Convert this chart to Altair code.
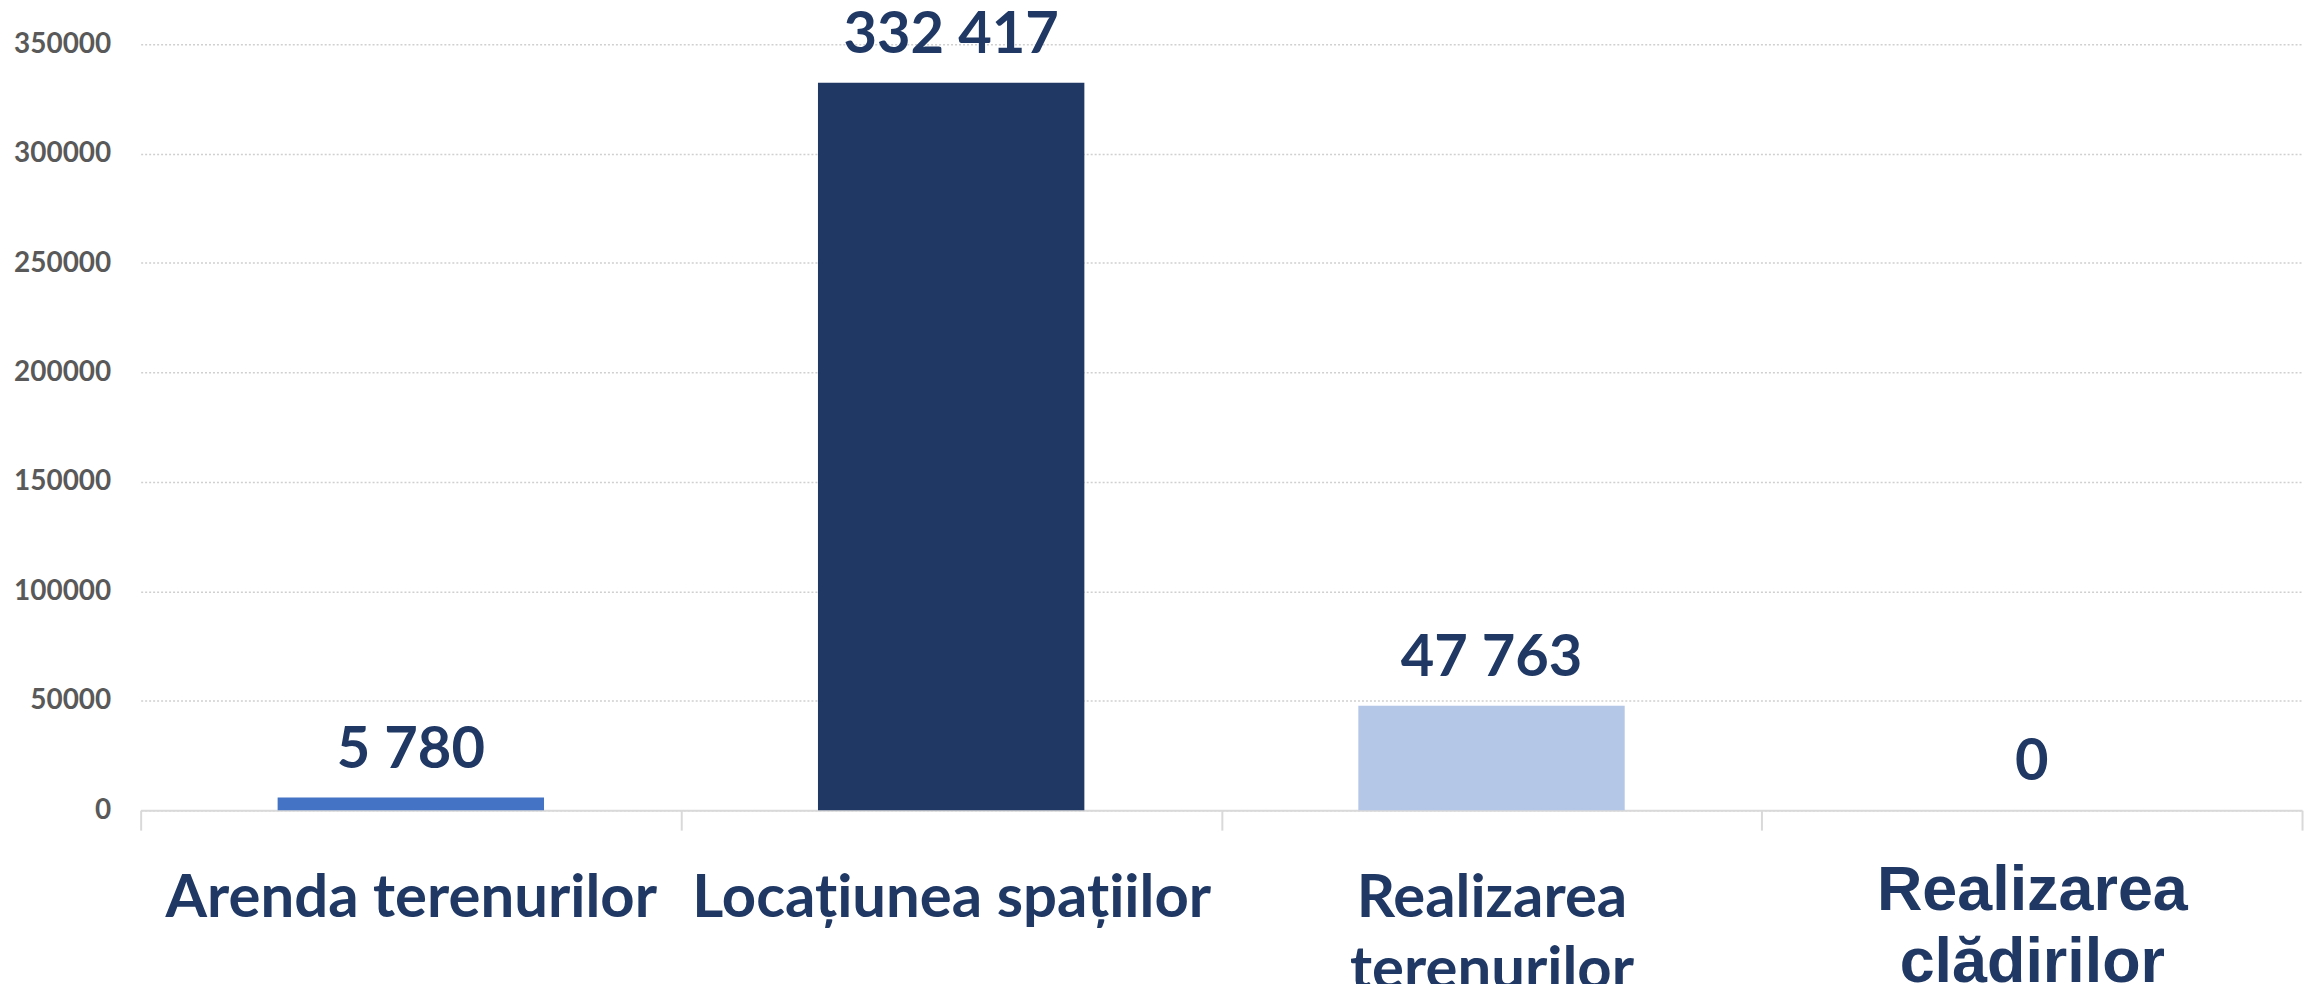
import altair as alt
import pandas as pd

categories = ["Arenda terenurilor", "Locațiunea spațiilor", "Realizarea terenurilor", "Realizarea clădirilor"]
values = [5780, 332417, 47763, 0]
bar_colors = ["#4472C4", "#203864", "#B4C7E7", "#203864"]
y_ticks = [0, 50000, 100000, 150000, 200000, 250000, 300000, 350000]

df = pd.DataFrame({"category": categories, "value": values})

W, H = 2167, 768
TEXT = "#1F3864"
last_test = "datum.value == 'Realizarea clădirilor'"

x = alt.X(
    "category:N",
    sort=categories,
    title=None,
    scale=alt.Scale(paddingInner=0, paddingOuter=0),
    axis=alt.Axis(
        labelExpr="indexof(datum.label, 'Realizarea') == 0 ? split(datum.label, ' ') : datum.label",
        labelAngle=0,
        labelLimit=900,
        labelOverlap=False,
        labelColor=TEXT,
        labelFontWeight="bold",
        labelFont={"condition": {"test": last_test, "value": "Liberation Sans"}, "value": "Lato"},
        labelFontSize={"condition": {"test": last_test, "value": 63}, "value": 60},
        labelPadding={"condition": {"test": last_test, "value": 30}, "value": 40},
        labelLineHeight=72,
        tickBand="extent",
        tickSize=20,
        tickWidth=2,
        tickColor="#d9d9d9",
        domainColor="#d9d9d9",
        domainWidth=2,
        grid=False,
    ),
)

y = alt.Y(
    "value:Q",
    scale=alt.Scale(domain=[0, 350000], nice=False),
    axis=alt.Axis(
        values=y_ticks,
        format="d",
        title=None,
        domain=False,
        ticks=False,
        tickSize=0,
        labelPadding=30,
        labelFont="Lato",
        labelFontSize=28,
        labelFontWeight="bold",
        labelColor="#595959",
        gridColor="#d0d0d0",
        gridDash=[2, 2],
        gridWidth=1.5,
    ),
)

bars = alt.Chart(df).mark_bar(width=alt.RelativeBandSize(0.493)).encode(
    x=x,
    y=y,
    color=alt.Color("category:N", scale=alt.Scale(domain=categories, range=bar_colors), legend=None),
)

labels = alt.Chart(df).mark_text(
    font="Lato", fontSize=58, fontWeight="bold", color=TEXT, baseline="alphabetic", dy=-30
).encode(
    x=x,
    y=y,
    text=alt.Text("value:Q", format=",d"),
)

chart = alt.layer(bars, labels).properties(
    width=W,
    height=H,
    autosize=alt.AutoSizeParams(type="none"),
    padding={"left": 133, "top": 35, "right": 10, "bottom": 173},
).configure(
    locale=alt.Locale(number=alt.NumberLocale(decimal=",", thousands=" ", grouping=[3], currency=["", ""])),
    view=alt.ViewConfig(stroke=None),
)

chart.save("out.html", embed_options={"renderer": "svg", "actions": False})
